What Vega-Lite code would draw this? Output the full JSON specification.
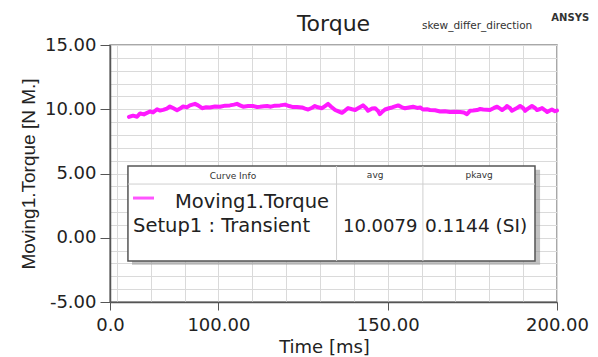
{
  "$schema": "https://vega.github.io/schema/vega-lite/v6.json",
  "width": 447,
  "height": 257,
  "autosize": "none",
  "padding": {"left": 110, "top": 45, "right": 41, "bottom": 55},
  "background": "white",
  "config": {"view": {"stroke": "#8c8c8c", "strokeWidth": 1.5}},
  "resolve": {"axis": {"x": "independent", "y": "independent"}},
  "layer": [
    {
      "data": {"values": [
        {"t": 73.6, "v": 9.40}, {"t": 74.8, "v": 9.50}, {"t": 76.0, "v": 9.42}, {"t": 76.9, "v": 9.67}, {"t": 78.0, "v": 9.60},
        {"t": 79.8, "v": 9.83}, {"t": 80.7, "v": 9.75}, {"t": 81.9, "v": 10.00}, {"t": 82.8, "v": 9.90}, {"t": 83.7, "v": 9.95},
        {"t": 84.8, "v": 10.05}, {"t": 85.7, "v": 10.22}, {"t": 86.6, "v": 10.10}, {"t": 87.8, "v": 9.92}, {"t": 88.7, "v": 10.05},
        {"t": 89.6, "v": 10.22}, {"t": 90.7, "v": 10.15}, {"t": 91.6, "v": 10.30}, {"t": 93.1, "v": 10.42}, {"t": 94.0, "v": 10.30},
        {"t": 95.2, "v": 10.08}, {"t": 96.4, "v": 10.15}, {"t": 97.5, "v": 10.14}, {"t": 99.0, "v": 10.22}, {"t": 100.5, "v": 10.20},
        {"t": 102.0, "v": 10.28}, {"t": 103.4, "v": 10.30}, {"t": 104.6, "v": 10.36}, {"t": 105.5, "v": 10.42}, {"t": 106.4, "v": 10.30},
        {"t": 107.3, "v": 10.20}, {"t": 108.8, "v": 10.25}, {"t": 110.2, "v": 10.25}, {"t": 111.4, "v": 10.18}, {"t": 112.3, "v": 10.20},
        {"t": 113.5, "v": 10.24}, {"t": 114.4, "v": 10.25}, {"t": 115.5, "v": 10.20}, {"t": 116.7, "v": 10.28}, {"t": 118.2, "v": 10.30},
        {"t": 119.7, "v": 10.36}, {"t": 120.9, "v": 10.25}, {"t": 121.8, "v": 10.18}, {"t": 123.2, "v": 10.18}, {"t": 124.7, "v": 10.14},
        {"t": 125.6, "v": 10.05}, {"t": 126.5, "v": 9.98}, {"t": 127.7, "v": 10.12}, {"t": 128.5, "v": 10.25}, {"t": 129.4, "v": 10.15},
        {"t": 130.6, "v": 10.08}, {"t": 131.5, "v": 10.25}, {"t": 132.4, "v": 10.42}, {"t": 133.3, "v": 10.20}, {"t": 134.5, "v": 9.94},
        {"t": 135.3, "v": 9.85}, {"t": 136.5, "v": 9.72}, {"t": 137.4, "v": 9.90}, {"t": 138.3, "v": 10.09}, {"t": 139.5, "v": 10.00},
        {"t": 140.4, "v": 9.94}, {"t": 141.5, "v": 10.12}, {"t": 142.7, "v": 10.30}, {"t": 143.6, "v": 10.10}, {"t": 144.2, "v": 9.88},
        {"t": 145.4, "v": 10.05}, {"t": 146.3, "v": 10.08}, {"t": 147.2, "v": 9.85}, {"t": 147.7, "v": 9.62}, {"t": 148.6, "v": 9.85},
        {"t": 149.2, "v": 9.98}, {"t": 150.4, "v": 10.08}, {"t": 151.3, "v": 10.14}, {"t": 152.2, "v": 10.22}, {"t": 153.1, "v": 10.30},
        {"t": 154.2, "v": 10.15}, {"t": 155.1, "v": 10.08}, {"t": 156.3, "v": 10.14}, {"t": 157.5, "v": 10.20}, {"t": 158.7, "v": 10.10},
        {"t": 159.6, "v": 10.14}, {"t": 160.4, "v": 9.98}, {"t": 161.6, "v": 10.00}, {"t": 162.5, "v": 9.94}, {"t": 164.0, "v": 9.92},
        {"t": 165.5, "v": 9.83}, {"t": 166.9, "v": 9.85}, {"t": 168.4, "v": 9.78}, {"t": 169.9, "v": 9.80}, {"t": 171.4, "v": 9.78},
        {"t": 172.5, "v": 9.75}, {"t": 173.4, "v": 9.62}, {"t": 174.3, "v": 9.88}, {"t": 175.2, "v": 9.90}, {"t": 176.4, "v": 9.94},
        {"t": 177.3, "v": 10.02}, {"t": 178.2, "v": 9.98}, {"t": 179.3, "v": 9.96}, {"t": 180.2, "v": 9.94}, {"t": 181.4, "v": 10.10},
        {"t": 182.3, "v": 10.20}, {"t": 183.2, "v": 10.05}, {"t": 183.8, "v": 9.94}, {"t": 184.7, "v": 10.10}, {"t": 185.2, "v": 10.25},
        {"t": 186.1, "v": 10.10}, {"t": 186.7, "v": 9.88}, {"t": 187.9, "v": 10.05}, {"t": 189.1, "v": 10.25}, {"t": 190.0, "v": 10.10},
        {"t": 190.6, "v": 9.88}, {"t": 191.4, "v": 10.05}, {"t": 192.6, "v": 10.25}, {"t": 193.5, "v": 10.10}, {"t": 194.1, "v": 9.94},
        {"t": 195.0, "v": 10.02}, {"t": 195.6, "v": 10.09}, {"t": 196.5, "v": 9.92}, {"t": 197.1, "v": 9.78}, {"t": 197.9, "v": 9.90},
        {"t": 198.5, "v": 9.98}, {"t": 199.4, "v": 9.85}, {"t": 200.0, "v": 9.90}
      ]},
      "mark": {"type": "line", "color": "#ff1aff", "strokeWidth": 4, "strokeJoin": "round", "strokeCap": "round"},
      "encoding": {
        "x": {"field": "t", "type": "quantitative",
          "scale": {"domain": [68, 200], "nice": false, "zero": false},
          "axis": {
            "orient": "bottom",
            "values": [68, 70, 80, 90, 100, 110, 120, 130, 140, 150, 160, 170, 180, 190, 200],
            "labelExpr": "datum.value == 68 ? '0.0' : (datum.value % 50 == 0 ? format(datum.value, '.2f') : '')",
            "tickOpacity": {"condition": {"test": "datum.value == 68 || datum.value % 50 == 0", "value": 1}, "value": 0},
            "gridOpacity": {"condition": {"test": "datum.value == 68", "value": 0}, "value": 1},
            "grid": true, "gridColor": "#dadada", "gridWidth": 1,
            "tickSize": 8, "tickColor": "#555", "domainColor": "#555", "domainWidth": 1.5,
            "labelPadding": 6, "labelFont": "DejaVu Sans", "labelFontSize": 18, "labelColor": "#222",
            "labelOverlap": false, "labelFlush": false, "labelBound": false,
            "title": "Time [ms]", "titleFont": "DejaVu Sans", "titleFontSize": 18, "titleFontWeight": "normal", "titleColor": "#222", "titlePadding": 4,
            "titleX": 214, "titleAlign": "center"
          }
        },
        "y": {"field": "v", "type": "quantitative",
          "scale": {"domain": [-5, 15], "nice": false, "zero": false},
          "axis": {
            "orient": "left",
            "values": [-5, -4, -3, -2, -1, 0, 1, 2, 3, 4, 5, 6, 7, 8, 9, 10, 11, 12, 13, 14, 15],
            "labelExpr": "datum.value % 5 == 0 ? ((datum.value < 0 ? '-' : '') + format(abs(datum.value), '.2f')) : ''",
            "tickOpacity": {"condition": {"test": "datum.value % 5 == 0", "value": 1}, "value": 0},
            "grid": true, "gridColor": "#dadada", "gridWidth": 1,
            "tickSize": 10, "tickColor": "#555", "domainColor": "#555", "domainWidth": 1.5,
            "labelPadding": 4, "labelFont": "DejaVu Sans", "labelFontSize": 18, "labelColor": "#222",
            "labelOverlap": false, "labelFlush": false, "labelBound": false,
            "title": "Moving1.Torque [N M.]", "titleFont": "Liberation Sans", "titleFontSize": 19, "titleFontWeight": "normal", "titleColor": "#222", "titlePadding": 6
          }
        }
      }
    },
    {
      "data": {"values": [{"k": 1}]},
      "mark": {"type": "rect", "fill": "#9a9a9a", "opacity": 0.6},
      "encoding": {"x": {"datum": 74.5, "axis": null}, "x2": {"datum": 195.0}, "y": {"datum": 5.3, "axis": null}, "y2": {"datum": -2.1}}
    },
    {
      "data": {"values": [{"k": 1}]},
      "mark": {"type": "rect", "fill": "white", "stroke": "#555", "strokeWidth": 1.5},
      "encoding": {"x": {"datum": 73.3, "axis": null}, "x2": {"datum": 193.5}, "y": {"datum": 5.58, "axis": null}, "y2": {"datum": -1.81}}
    },
    {
      "data": {"values": [{"k": 1}]},
      "mark": {"type": "rule", "color": "#cfcfcf", "strokeWidth": 1},
      "encoding": {"x": {"datum": 73.3, "axis": null}, "x2": {"datum": 193.5}, "y": {"datum": 4.18, "axis": null}}
    },
    {
      "data": {"values": [{"k": 1}]},
      "mark": {"type": "rule", "color": "#cfcfcf", "strokeWidth": 1},
      "encoding": {"x": {"datum": 134.9, "axis": null}, "y": {"datum": 5.58, "axis": null}, "y2": {"datum": -1.81}}
    },
    {
      "data": {"values": [{"k": 1}]},
      "mark": {"type": "rule", "color": "#cfcfcf", "strokeWidth": 1},
      "encoding": {"x": {"datum": 160.4, "axis": null}, "y": {"datum": 5.58, "axis": null}, "y2": {"datum": -1.81}}
    },
    {
      "data": {"values": [{"k": 1}]},
      "mark": {"type": "rule", "color": "#ff55ff", "strokeWidth": 3},
      "encoding": {"x": {"datum": 74.8, "axis": null}, "x2": {"datum": 81.0}, "y": {"datum": 3.09, "axis": null}}
    },
    {
      "data": {"values": [{"k": 1}]},
      "mark": {"type": "text", "text": "Curve Info", "font": "DejaVu Sans", "fontSize": 9, "color": "#333", "align": "center", "baseline": "middle"},
      "encoding": {"x": {"datum": 104.3, "axis": null}, "y": {"datum": 4.8, "axis": null}}
    },
    {
      "data": {"values": [{"k": 1}]},
      "mark": {"type": "text", "text": "avg", "font": "DejaVu Sans", "fontSize": 9, "color": "#333", "align": "center", "baseline": "middle"},
      "encoding": {"x": {"datum": 146.3, "axis": null}, "y": {"datum": 4.85, "axis": null}}
    },
    {
      "data": {"values": [{"k": 1}]},
      "mark": {"type": "text", "text": "pkavg", "font": "DejaVu Sans", "fontSize": 9, "color": "#333", "align": "center", "baseline": "middle"},
      "encoding": {"x": {"datum": 177.0, "axis": null}, "y": {"datum": 4.85, "axis": null}}
    },
    {
      "data": {"values": [{"k": 1}]},
      "mark": {"type": "text", "text": "Moving1.Torque", "font": "DejaVu Sans", "fontSize": 19.5, "color": "#222", "align": "left", "baseline": "alphabetic"},
      "encoding": {"x": {"datum": 87.2, "axis": null}, "y": {"datum": 2.29, "axis": null}}
    },
    {
      "data": {"values": [{"k": 1}]},
      "mark": {"type": "text", "text": "Setup1 : Transient", "font": "DejaVu Sans", "fontSize": 19.5, "color": "#222", "align": "left", "baseline": "alphabetic"},
      "encoding": {"x": {"datum": 74.8, "axis": null}, "y": {"datum": 0.42, "axis": null}}
    },
    {
      "data": {"values": [{"k": 1}]},
      "mark": {"type": "text", "text": "10.0079", "font": "DejaVu Sans", "fontSize": 18, "color": "#222", "align": "left", "baseline": "alphabetic"},
      "encoding": {"x": {"datum": 136.8, "axis": null}, "y": {"datum": 0.42, "axis": null}}
    },
    {
      "data": {"values": [{"k": 1}]},
      "mark": {"type": "text", "text": "0.1144 (SI)", "font": "DejaVu Sans", "fontSize": 18.5, "color": "#222", "align": "left", "baseline": "alphabetic"},
      "encoding": {"x": {"datum": 161.0, "axis": null}, "y": {"datum": 0.42, "axis": null}}
    },
    {
      "data": {"values": [{"k": 1}]},
      "mark": {"type": "text", "text": "Torque", "font": "DejaVu Sans", "fontSize": 22, "color": "#222", "align": "center", "baseline": "alphabetic"},
      "encoding": {"x": {"datum": 134.0, "axis": null}, "y": {"datum": 16.09, "axis": null}}
    },
    {
      "data": {"values": [{"k": 1}]},
      "mark": {"type": "text", "text": "skew_differ_direction", "font": "DejaVu Sans", "fontSize": 10.5, "color": "#333", "align": "center", "baseline": "alphabetic"},
      "encoding": {"x": {"datum": 176.4, "axis": null}, "y": {"datum": 16.26, "axis": null}}
    },
    {
      "data": {"values": [{"k": 1}]},
      "mark": {"type": "text", "text": "ANSYS", "font": "DejaVu Sans", "fontSize": 10, "fontWeight": "bold", "color": "#333", "align": "center", "baseline": "alphabetic"},
      "encoding": {"x": {"datum": 203.9, "axis": null}, "y": {"datum": 16.89, "axis": null}}
    }
  ]
}
